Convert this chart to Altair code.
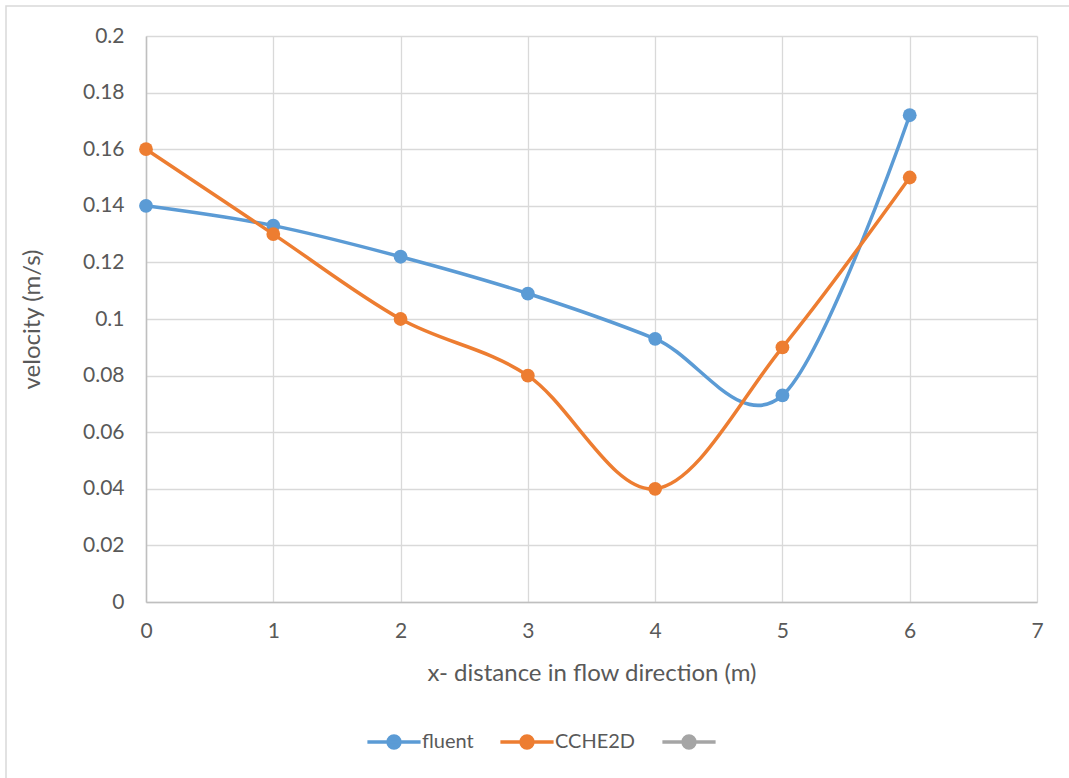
import altair as alt
import pandas as pd

# ---- data ----
x_dist = [0, 1, 2, 3, 4, 5, 6]
fluent = [0.140, 0.133, 0.122, 0.109, 0.093, 0.073, 0.172]
cche2d = [0.160, 0.130, 0.100, 0.080, 0.040, 0.090, 0.150]
series_names = ["fluent", "CCHE2D", " "]
series_colors = ["#5B9BD5", "#ED7D31", "#A5A5A5"]
x_ticks = [0, 1, 2, 3, 4, 5, 6, 7]
y_ticks = [0, 0.02, 0.04, 0.06, 0.08, 0.1, 0.12, 0.14, 0.16, 0.18, 0.2]

rows = []
for name, vals in (("fluent", fluent), ("CCHE2D", cche2d)):
    for xv, yv in zip(x_dist, vals):
        rows.append({"x": xv, "v": yv, "series": name})
df = pd.DataFrame(rows)

FONT = "Lato"
TXT = "#595959"

color_scale = alt.Scale(domain=series_names, range=series_colors)
legend_path = "M-3.8,0L3.8,0M-0.85,0A0.85,0.85 0 1,0 0.85,0A0.85,0.85 0 1,0 -0.85,0Z"

x_enc = alt.X("x:Q", scale=alt.Scale(domain=[0, 7], nice=False),
              axis=alt.Axis(values=x_ticks, title="x- distance in flow direction (m)",
                            format="d", labelPadding=18, titlePadding=20,
                            labelFlush=False))
y_enc = alt.Y("v:Q", scale=alt.Scale(domain=[0, 0.2], nice=False),
              axis=alt.Axis(values=y_ticks, title="velocity (m/s)", format="~g",
                            labelPadding=22, titlePadding=38, labelFlush=False))

legend = alt.Legend(title=None, orient="none", direction="horizontal",
                    legendX=238, legendY=696, symbolType=legend_path,
                    symbolSize=196, symbolStrokeWidth=3.5, labelOffset=18,
                    columnPadding=19, labelFont=FONT, labelFontSize=20,
                    labelColor=TXT)

layers = []
for i, name in enumerate(["fluent", "CCHE2D"]):
    sub = df[df["series"] == name]
    base = alt.Chart(sub)
    line = base.mark_line(interpolate="cardinal", strokeWidth=3.5).encode(
        x=x_enc, y=y_enc,
        stroke=alt.Stroke("series:N", scale=color_scale,
                          legend=legend if i == 0 else None),
    )
    pts = base.mark_point(filled=True, size=190, opacity=1, strokeWidth=1).encode(
        x=x_enc, y=y_enc,
        fill=alt.Fill("series:N", scale=color_scale,
                      legend=legend if i == 0 else None),
    )
    layers += [line, pts]

border = alt.Chart(alt.Data(values=[{}])).mark_rect(
    filled=False, stroke="#D9D9D9", strokeWidth=1.5
).encode(x=alt.value(-140), x2=alt.value(930), y=alt.value(-30), y2=alt.value(748))

chart = alt.layer(border, *layers).properties(
    width=891, height=566,
    autosize=alt.AutoSizeParams(type="none"),
    padding={"left": 146, "top": 36, "right": 32, "bottom": 176},
    background="white",
).configure_view(stroke=None).configure_axis(
    domainColor="#BFBFBF", domainWidth=1.5, gridColor="#D9D9D9", gridWidth=1.3,
    ticks=False, labelFont=FONT, labelFontSize=21, labelColor=TXT,
    titleFont=FONT, titleFontSize=24, titleColor=TXT, titleFontWeight="normal",
)

chart.save("out.html", embed_options={"renderer": "svg", "actions": False})
